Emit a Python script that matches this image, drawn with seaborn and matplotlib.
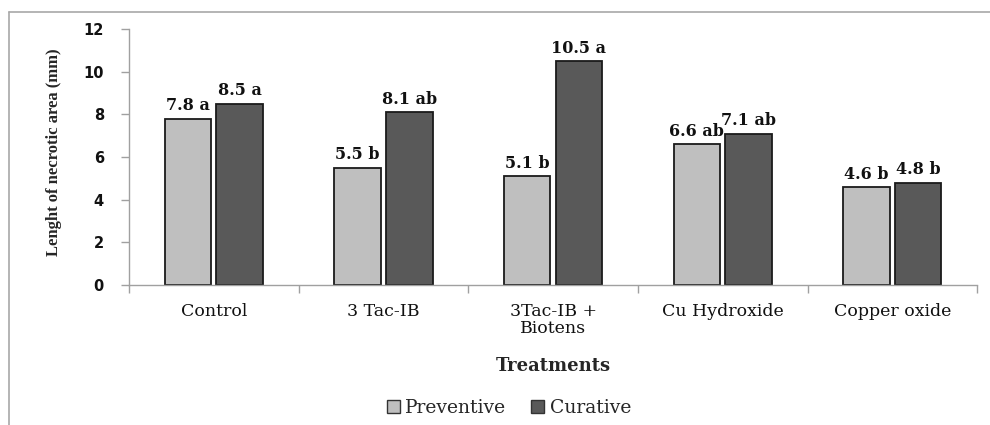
import matplotlib
matplotlib.use("Agg")
import matplotlib.pyplot as plt
import seaborn as sns
import pandas as pd
from matplotlib.patches import Patch
from matplotlib.lines import Line2D

treatments = ["Control", "3 Tac-IB", "3Tac-IB +\nBiotens", "Cu Hydroxide", "Copper oxide"]
preventive = [7.8, 5.5, 5.1, 6.6, 4.6]
curative = [8.5, 8.1, 10.5, 7.1, 4.8]
prev_letters = ["a", "b", "b", "ab", "b"]
cur_letters = ["a", "ab", "a", "ab", "b"]
series = ["Preventive", "Curative"]
yticks = [0, 2, 4, 6, 8, 10, 12]

df = pd.DataFrame({
    "Treatment": treatments * 2,
    "Series": [series[0]] * len(treatments) + [series[1]] * len(treatments),
    "Value": preventive + curative,
})

sns.set_theme(style="white")
plt.rcParams["font.family"] = ["DejaVu Serif", "Liberation Serif"]

fig = plt.figure(figsize=(9.9, 4.25), dpi=100)
ax = fig.add_axes([0.1303, 0.3294, 0.8567, 0.6024])

palette = {"Preventive": "#BFBFBF", "Curative": "#595959"}
sns.barplot(data=df, x="Treatment", y="Value", hue="Series", order=treatments,
            hue_order=series, palette=palette, width=0.61, gap=0.1,
            edgecolor="#1a1a1a", linewidth=1.3, saturation=1, ax=ax, legend=False,
            errorbar=None)

# value labels
for cont, vals, lets in zip(ax.containers, [preventive, curative], [prev_letters, cur_letters]):
    for rect, v, l in zip(cont, vals, lets):
        ax.text(rect.get_x() + rect.get_width() / 2, v + 0.2, f"{v} {l}",
                ha="center", va="bottom", fontsize=11.5, fontweight="bold", color="#111111")

ax.set_ylim(0, 12)
ax.set_xlim(-0.5, len(treatments) - 0.5)
ax.set_yticks(yticks)
ax.set_yticklabels([str(t) for t in yticks], fontweight="bold", fontsize=10.5,
                   family=["DejaVu Sans"])
ax.set_xticks(range(len(treatments)))
ax.set_xticklabels(treatments, fontsize=12.5, linespacing=1.0)
ax.set_xticks([i - 0.5 for i in range(len(treatments) + 1)], minor=True)
ax.tick_params(axis="x", which="major", length=0, pad=13, colors="#111111")
ax.tick_params(axis="x", which="minor", length=6, width=1, color="#A0A0A0", direction="out", bottom=True)
ax.tick_params(axis="y", length=6, width=1, color="#A0A0A0", direction="out", left=True, pad=12, labelcolor="#111111")

for s in ["top", "right"]:
    ax.spines[s].set_visible(False)
for s in ["left", "bottom"]:
    ax.spines[s].set_color("#A0A0A0")
    ax.spines[s].set_linewidth(1)

ax.set_ylabel("Lenght of necrotic area (mm)", fontsize=12, fontweight="bold",
              family=["Liberation Serif"])
ax.yaxis.set_label_coords(-0.079, 0.52)
ax.set_xlabel("Treatments", fontsize=13, fontweight="bold", labelpad=14)

handles = [Patch(facecolor=palette[s], edgecolor="#333333", linewidth=1) for s in series]
fig.legend(handles, series, loc="center", bbox_to_anchor=(0.514, 0.04), ncol=2,
           frameon=False, fontsize=13.5, handlelength=0.7, handleheight=0.7,
           handletextpad=0.3, columnspacing=1.3)

# outer frame (left & top lines)
fig.add_artist(Line2D([0.009, 0.009], [0.0, 0.972], transform=fig.transFigure, color="#A8A8A8", lw=1.2))
fig.add_artist(Line2D([0.009, 1.0], [0.972, 0.972], transform=fig.transFigure, color="#A8A8A8", lw=1.2))

fig.savefig("out.png", dpi=100)
